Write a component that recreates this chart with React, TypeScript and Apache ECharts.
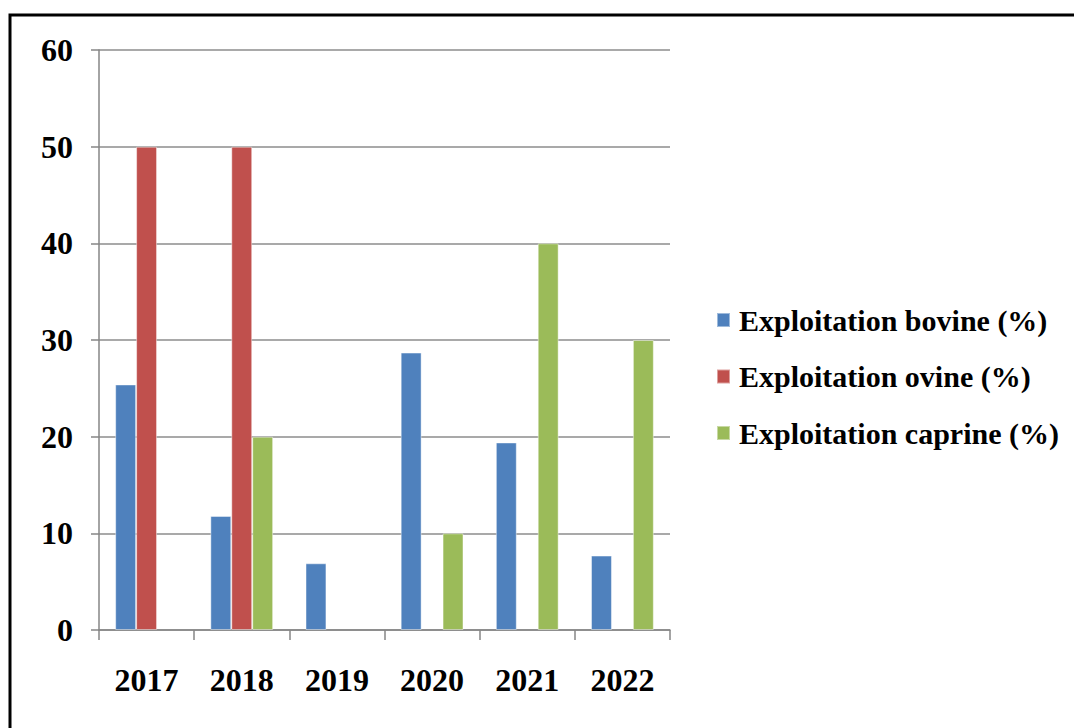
import React, { useEffect, useRef } from "react";
import * as echarts from "echarts";

const years = ["2017", "2018", "2019", "2020", "2021", "2022"];
const bovine = [25.4, 11.8, 6.9, 28.7, 19.4, 7.7];
const ovine = [50, 50, null, null, null, null];
const caprine = [null, 20, null, 10, 40, 30];
const seriesNames = [
  "Exploitation bovine (%)",
  "Exploitation ovine (%)",
  "Exploitation caprine (%)",
];
const colors = ["#4F81BD", "#C0504D", "#9BBB59"];

const FONT = "'Liberation Serif', 'Times New Roman', serif";

export default function App() {
  const ref = useRef<HTMLDivElement>(null);
  useEffect(() => {
    document.body.style.margin = "0";
    const chart = echarts.init(ref.current!, null, { renderer: "svg" });
    const mk = (i: number, data: (number | null)[]) => ({
      name: seriesNames[i],
      type: "bar",
      data,
      barGap: "0%",
      barCategoryGap: "34%",
      itemStyle: {
        color: colors[i],
        borderColor: "rgba(255,255,255,0.45)",
        borderWidth: 1,
      },
    });
    chart.setOption({
      animation: false,
      backgroundColor: "#ffffff",
      color: colors,
      graphic: [
        {
          type: "rect",
          shape: { x: 10, y: 15, width: 1200, height: 900 },
          style: { fill: "none", stroke: "#000", lineWidth: 3 },
          silent: true,
        },
      ],
      grid: { left: 99, right: 404, top: 50, bottom: 98 },
      legend: {
        orient: "vertical",
        left: 711,
        top: 300,
        itemWidth: 13,
        itemHeight: 14,
        itemGap: 26.5,
        icon: "rect",
        textStyle: {
          fontFamily: FONT,
          fontWeight: "bold",
          fontSize: 30,
          lineHeight: 30,
          color: "#000",
          padding: [0, 0, 0, 4],
        },
        data: seriesNames,
      },
      xAxis: {
        type: "category",
        data: years,
        boundaryGap: true,
        axisLine: { show: true, lineStyle: { color: "#868686", width: 1.5 } },
        axisTick: { show: true, length: 10, lineStyle: { color: "#868686", width: 1.5 } },
        axisLabel: {
          margin: 34,
          fontFamily: FONT,
          fontWeight: "bold",
          fontSize: 32,
          color: "#000",
        },
      },
      yAxis: {
        type: "value",
        min: 0,
        max: 60,
        interval: 10,
        axisLine: { show: true, lineStyle: { color: "#868686", width: 1.5 } },
        axisTick: { show: true, length: 8, lineStyle: { color: "#868686", width: 1.5 } },
        splitLine: { show: true, lineStyle: { color: "#8c8c8c", width: 1.5 } },
        axisLabel: {
          margin: 26,
          fontFamily: FONT,
          fontWeight: "bold",
          fontSize: 32,
          color: "#000",
        },
      },
      series: [mk(0, bovine), mk(1, ovine), mk(2, caprine)],
    });
    return () => chart.dispose();
  }, []);
  return <div ref={ref} style={{ width: 1074, height: 728 }} />;
}
